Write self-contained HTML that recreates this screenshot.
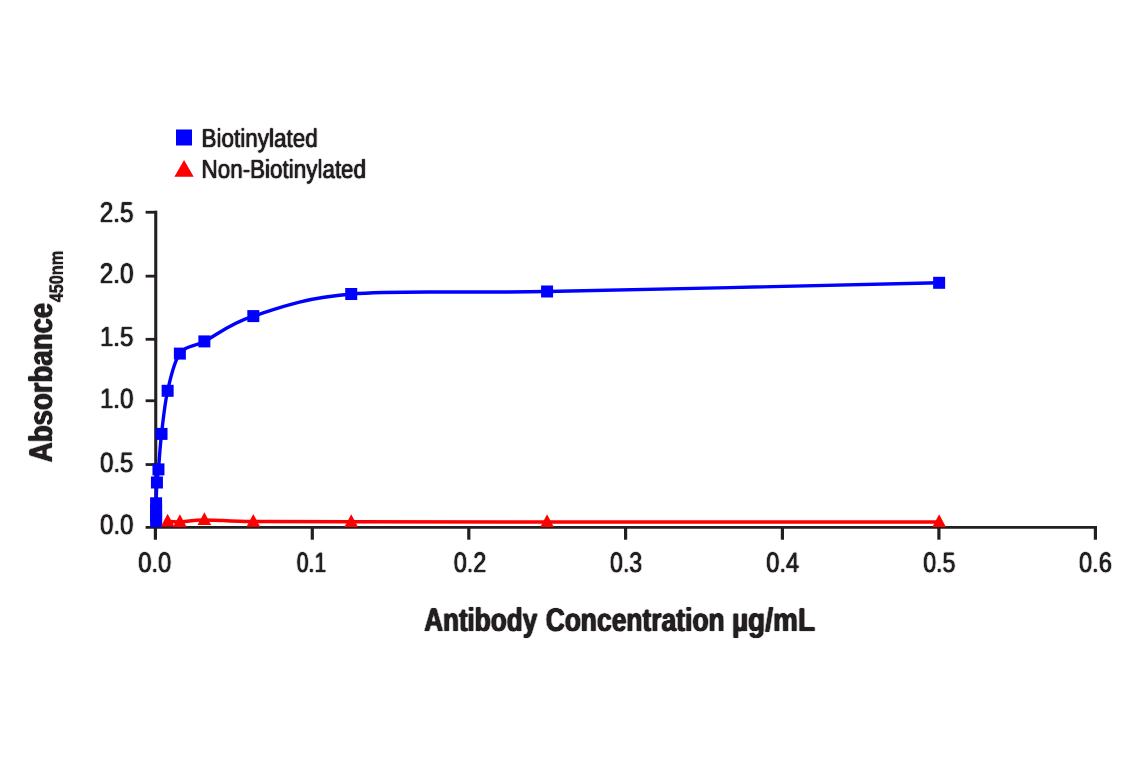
<!DOCTYPE html>
<html lang="en"><head><meta charset="utf-8"><title>Absorbance vs Antibody Concentration</title>
<style>html,body{margin:0;padding:0;background:#fff;overflow:hidden;}svg{display:block;}text{font-family:"Liberation Sans",Arial,Helvetica,sans-serif;text-rendering:geometricPrecision;}</style></head>
<body>
<svg width="1141" height="768" viewBox="0 0 1141 768">
<defs><filter id="fr" filterUnits="userSpaceOnUse" x="0" y="0" width="1141" height="768" color-interpolation-filters="sRGB"><feConvolveMatrix in="SourceAlpha" order="3 3" kernelMatrix="0 0.2 0 0.3 1 0.3 0 0.2 0" divisor="1" preserveAlpha="false" edgeMode="none" result="c"/><feFlood flood-color="#231f20"/><feComposite in2="c" operator="in"/></filter><filter id="fb" filterUnits="userSpaceOnUse" x="0" y="0" width="1141" height="768" color-interpolation-filters="sRGB"><feConvolveMatrix in="SourceAlpha" order="3 3" kernelMatrix="0 0.1 0 0.5 1 0.5 0 0.1 0" divisor="1" preserveAlpha="false" edgeMode="none" result="c"/><feFlood flood-color="#231f20"/><feComposite in2="c" operator="in"/></filter><filter id="fv" filterUnits="userSpaceOnUse" x="0" y="0" width="1141" height="768" color-interpolation-filters="sRGB"><feConvolveMatrix in="SourceAlpha" order="3 3" kernelMatrix="0 0.5 0 0.1 1 0.1 0 0.5 0" divisor="1" preserveAlpha="false" edgeMode="none" result="c"/><feFlood flood-color="#231f20"/><feComposite in2="c" operator="in"/></filter><filter id="fs" filterUnits="userSpaceOnUse" x="0" y="0" width="1141" height="768" color-interpolation-filters="sRGB"><feConvolveMatrix in="SourceAlpha" order="3 3" kernelMatrix="0 0.2 0 0.05 1 0.05 0 0.2 0" divisor="1" preserveAlpha="false" edgeMode="none" result="c"/><feFlood flood-color="#231f20"/><feComposite in2="c" operator="in"/></filter></defs>
<rect x="0" y="0" width="1141" height="768" fill="#ffffff"/>
<g stroke="#231f20" fill="none">
<path d="M155.75 210.85 V528.5" stroke-width="3.1"/>
<path d="M145.6 527.4 H1097" stroke-width="2.8"/>
<path d="M145.6 212.25 H157" stroke-width="2.8"/>
<path d="M145.6 276.15 H157" stroke-width="2.8"/>
<path d="M145.6 339.3 H157" stroke-width="2.8"/>
<path d="M145.6 400.75 H157" stroke-width="2.8"/>
<path d="M145.6 464.55 H157" stroke-width="2.8"/>
<path d="M155.40 526.5 V539.7" stroke-width="3.2"/>
<path d="M312.30 526.5 V539.7" stroke-width="3.2"/>
<path d="M468.80 526.5 V539.7" stroke-width="3.2"/>
<path d="M625.60 526.5 V539.7" stroke-width="3.2"/>
<path d="M782.40 526.5 V539.7" stroke-width="3.2"/>
<path d="M938.90 526.5 V539.7" stroke-width="3.2"/>
<path d="M1095.40 526.5 V539.7" stroke-width="3.2"/>
</g>
<g fill="#0000ff">
<path d="M939.13 282.80 C873.79 284.25 645.05 289.63 547.07 291.50 C449.08 293.37 400.19 289.90 351.23 294.00 C302.28 298.10 277.80 308.20 253.32 316.10 C228.84 324.00 216.60 335.15 204.36 341.40 C192.12 347.65 186.00 345.37 179.88 353.60 C173.76 361.83 170.70 377.42 167.64 390.80 C164.58 404.18 163.05 420.80 161.52 433.90 C159.99 447.00 159.22 461.30 158.46 469.40 C157.69 477.50 157.32 476.85 156.93 482.50 C156.54 488.15 156.24 498.65 156.10 503.30 C155.96 507.95 156.10 508.22 156.10 510.40 C156.10 512.58 156.10 514.60 156.10 516.40 C156.10 518.20 156.10 520.40 156.10 521.20" stroke="#0000ff" stroke-width="3.4" fill="none" stroke-linejoin="round"/>
<rect x="933.13" y="276.80" width="12" height="12"/>
<rect x="541.07" y="285.50" width="12" height="12"/>
<rect x="345.23" y="288.00" width="12" height="12"/>
<rect x="247.32" y="310.10" width="12" height="12"/>
<rect x="198.36" y="335.40" width="12" height="12"/>
<rect x="173.88" y="347.60" width="12" height="12"/>
<rect x="161.64" y="384.80" width="12" height="12"/>
<rect x="155.52" y="427.90" width="12" height="12"/>
<rect x="152.46" y="463.40" width="12" height="12"/>
<rect x="150.93" y="476.50" width="12" height="12"/>
<rect x="150.10" y="497.30" width="12" height="12"/>
<rect x="150.10" y="504.40" width="12" height="12"/>
<rect x="150.10" y="510.40" width="12" height="12"/>
<rect x="150.10" y="515.20" width="12" height="12"/>
</g>
<g fill="#ff0000">
<path d="M939.13 521.90 C873.79 521.90 645.05 521.92 547.07 521.90 C449.08 521.88 400.19 521.85 351.23 521.80 C302.28 521.75 277.80 521.92 253.32 521.60 C228.84 521.28 216.60 519.85 204.36 519.90 C192.12 519.95 186.00 521.65 179.88 521.90 C173.76 522.15 169.68 521.48 167.64 521.40" stroke="#ff0000" stroke-width="3.5" fill="none" stroke-linejoin="round"/>
<path d="M939.13 514.30 L945.93 527.10 H932.33 Z"/>
<path d="M547.07 514.30 L553.87 527.10 H540.27 Z"/>
<path d="M351.23 514.20 L358.03 527.00 H344.43 Z"/>
<path d="M253.32 514.00 L260.12 526.80 H246.52 Z"/>
<path d="M204.36 512.30 L211.16 525.10 H197.56 Z"/>
<path d="M179.88 514.30 L186.68 527.10 H173.08 Z"/>
<path d="M167.64 513.80 L174.44 526.60 H160.84 Z"/>
</g>
<rect x="176" y="129.5" width="16" height="16" fill="#0000ff"/>
<path d="M184.05 159.9 L193.7 176.8 H174.4 Z" fill="#ff0000"/>
<g filter="url(#fr)" fill="#231f20">
<text transform="translate(201.50 146.90) scale(0.8676 1)" font-size="25.94">Biotinylated</text>
<text transform="translate(201.51 178.40) scale(0.8600 1)" font-size="26.09">Non-Biotinylated</text>
<text transform="translate(99.73 222.15) scale(0.8550 1)" font-size="28.43">2.5</text>
<text transform="translate(99.73 283.15) scale(0.8572 1)" font-size="28.36">2.0</text>
<text transform="translate(99.89 345.80) scale(0.8753 1)" font-size="27.64">1.5</text>
<text transform="translate(99.89 407.95) scale(0.8641 1)" font-size="28.00">1.0</text>
<text transform="translate(99.99 471.55) scale(0.8615 1)" font-size="28.00">0.5</text>
<text transform="translate(99.99 533.55) scale(0.8615 1)" font-size="28.00">0.0</text>
<text transform="translate(138.20 572.40) scale(0.8463 1)" font-size="28.14">0.0</text>
<text transform="translate(296.86 572.40) scale(0.7503 1)" font-size="28.14">0.1</text>
<text transform="translate(453.76 572.40) scale(0.8350 1)" font-size="28.14">0.2</text>
<text transform="translate(610.02 572.40) scale(0.8223 1)" font-size="28.14">0.3</text>
<text transform="translate(766.35 572.40) scale(0.8412 1)" font-size="28.14">0.4</text>
<text transform="translate(923.17 572.40) scale(0.8259 1)" font-size="28.14">0.5</text>
<text transform="translate(1078.95 572.40) scale(0.8414 1)" font-size="28.14">0.6</text>
</g>
<g filter="url(#fb)" fill="#231f20"><text transform="translate(424.15 630.90) scale(0.7966 1)" font-size="32.75" font-weight="bold">Antibody</text><text transform="translate(545.64 630.90) scale(0.8064 1)" font-size="32.75" font-weight="bold">Concentration</text><text transform="translate(731.98 630.90) scale(0.8553 1)" font-size="32.75" font-weight="bold">µg/mL</text></g>
<g filter="url(#fv)" fill="#231f20"><g transform="rotate(-90)"><text transform="translate(-462.19 51.90) scale(0.8455 1)" font-size="32.61" font-weight="bold">Absorbance</text></g></g>
<g filter="url(#fs)" fill="#231f20"><g transform="rotate(-90)"><text transform="translate(-302.24 62.75) scale(0.8271 1)" font-size="19.64" font-weight="bold">450nm</text></g></g>
</svg>
</body></html>
